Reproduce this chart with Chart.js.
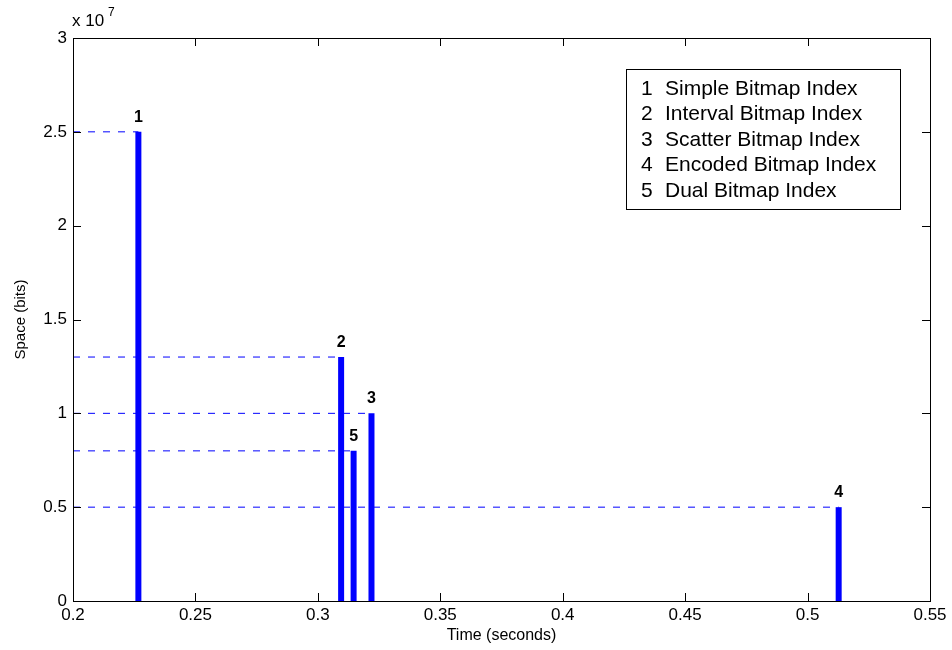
<!DOCTYPE html>
<html lang="en">
<head>
  <meta charset="UTF-8">
  <title>Space vs Time of Bitmap Indexes</title>
  <script src="https://cdn.jsdelivr.net/npm/chart.js"></script>
  <style>
    * { box-sizing:border-box; }
    body { margin:0; background:#fff; overflow:hidden; }
  </style>
</head>
<body>
<canvas id="chartBitmap" width="952" height="650"></canvas>

<script>
  // data
  const indexIds   = ['1', '2', '3', '4', '5'];
  const indexNames = ['Simple Bitmap Index', 'Interval Bitmap Index', 'Scatter Bitmap Index',
                      'Encoded Bitmap Index', 'Dual Bitmap Index'];
  const timeSec    = [0.2267, 0.3095, 0.3219, 0.5127, 0.3146];
  const spaceBits  = [2.5e7, 1.3e7, 1.0e7, 0.5e7, 0.8e7];
  const xTicks     = [0.2, 0.25, 0.3, 0.35, 0.4, 0.45, 0.5, 0.55];
  const yTicks     = [0, 0.5e7, 1e7, 1.5e7, 2e7, 2.5e7, 3e7];

  const FONT = 'Liberation Sans, Arial, sans-serif';

  // stems + dashed guide lines
  const datasets = [];
  indexIds.forEach((id, i) => {
    datasets.push({
      label: 'guide ' + id,
      data: [{x: xTicks[0], y: spaceBits[i]}, {x: timeSec[i], y: spaceBits[i]}],
      showLine: true, pointRadius: 0,
      borderColor: '#0000ff', borderWidth: 1, borderDash: [7, 8]
    });
  });
  indexIds.forEach((id, i) => {
    datasets.push({
      label: id,
      data: [{x: timeSec[i], y: 0}, {x: timeSec[i], y: spaceBits[i]}],
      showLine: true, pointRadius: 0,
      borderColor: '#0000ff', borderWidth: 6, borderCapStyle: 'butt'
    });
  });

  // matlab style box, inward ticks, labels, legend
  const matlabDecor = {
    id: 'matlabDecor',
    afterDraw(chart){
      const ctx = chart.ctx, a = chart.chartArea;
      const xs = chart.scales.x, ys = chart.scales.y;
      ctx.save();
      ctx.strokeStyle = '#000'; ctx.lineWidth = 1;
      ctx.strokeRect(Math.round(a.left) + 0.5, Math.round(a.top) + 0.5,
                     Math.round(a.right - a.left), Math.round(a.bottom - a.top));
      ctx.beginPath();
      xTicks.forEach(t => {
        const px = Math.round(xs.getPixelForValue(t)) + 0.5;
        ctx.moveTo(px, a.bottom); ctx.lineTo(px, a.bottom - 8);
        ctx.moveTo(px, a.top); ctx.lineTo(px, a.top + 8);
      });
      yTicks.forEach(t => {
        const py = Math.round(ys.getPixelForValue(t)) + 0.5;
        ctx.moveTo(a.left, py); ctx.lineTo(a.left + 8, py);
        ctx.moveTo(a.right, py); ctx.lineTo(a.right - 8, py);
      });
      ctx.stroke();

      // bar numbers
      ctx.fillStyle = '#000';
      ctx.font = 'bold 16px ' + FONT;
      ctx.textAlign = 'center'; ctx.textBaseline = 'alphabetic';
      indexIds.forEach((id, i) => {
        ctx.fillText(id, xs.getPixelForValue(timeSec[i]), ys.getPixelForValue(spaceBits[i]) - 10);
      });

      // exponent
      ctx.font = '17px ' + FONT;
      ctx.textAlign = 'left';
      ctx.fillText('x 10', a.left - 1, a.top - 12);
      ctx.font = '12px ' + FONT;
      ctx.fillText('7', a.left + 35, a.top - 22);

      // legend box
      const lx = 626, ly = 69, lw = 274, lh = 140;
      ctx.fillStyle = '#fff';
      ctx.fillRect(lx, ly, lw, lh);
      ctx.strokeRect(lx + 0.5, ly + 0.5, lw, lh);
      ctx.fillStyle = '#000';
      ctx.font = '21px ' + FONT;
      ctx.textBaseline = 'middle';
      indexIds.forEach((id, i) => {
        const yy = ly + 20 + i * 25.5;
        ctx.fillText(id, lx + 15, yy);
        ctx.fillText(indexNames[i], lx + 39, yy);
      });
      ctx.restore();
    }
  };

  new Chart(document.getElementById('chartBitmap'), {
    type: 'scatter',
    data: { datasets },
    plugins: [matlabDecor],
    options: {
      responsive: false,
      animation: false,
      layout: { padding: { top: 38, right: 22, left: 12, bottom: 0 } },
      plugins: { legend: { display: false }, tooltip: { enabled: false } },
      scales: {
        x: {
          type: 'linear', min: 0.2, max: 0.55,
          afterBuildTicks: s => { s.ticks = xTicks.map(v => ({ value: v })); },
          afterFit: s => { s.height = 49; },
          grid: { display: false, drawTicks: false },
          border: { display: false },
          ticks: { color: '#000', font: { family: FONT, size: 17 }, padding: 4,
                   autoSkip: false, maxRotation: 0, callback: v => String(+v.toFixed(2)) },
          title: { display: true, text: 'Time (seconds)', color: '#000',
                   font: { family: FONT, size: 16 }, padding: { top: 0, bottom: 5 } }
        },
        y: {
          min: 0, max: 3e7,
          afterBuildTicks: s => { s.ticks = yTicks.map(v => ({ value: v })); },
          afterFit: s => { s.width = 61; },
          grid: { display: false, drawTicks: false },
          border: { display: false },
          ticks: { color: '#000', font: { family: FONT, size: 17 }, padding: 6,
                   autoSkip: false, callback: v => String(+(v / 1e7).toFixed(2)) },
          title: { display: true, text: 'Space (bits)', color: '#000',
                   font: { family: FONT, size: 15 }, padding: { top: 0, bottom: 0 } }
        }
      }
    }
  });
</script>
</body>
</html>
